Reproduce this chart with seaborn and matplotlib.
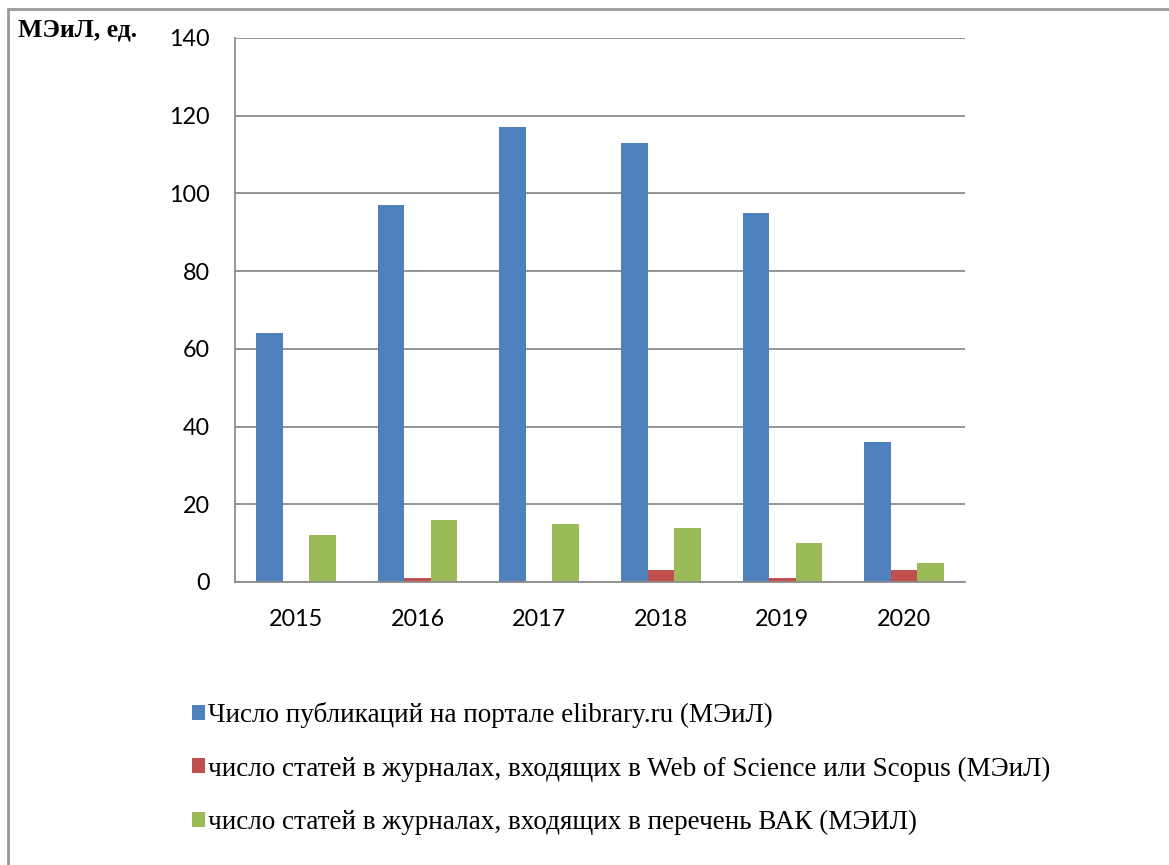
import matplotlib
matplotlib.use('Agg')
import matplotlib.pyplot as plt
import seaborn as sns
import pandas as pd
from matplotlib.patches import Patch
from matplotlib.lines import Line2D

# данные
years = ['2015', '2016', '2017', '2018', '2019', '2020']
series_names = [
    'Число публикаций на портале elibrary.ru (МЭиЛ)',
    'число статей в журналах, входящих в Web of Science или Scopus (МЭиЛ)',
    'число статей в журналах, входящих в перечень ВАК (МЭИЛ)',
]
elibrary = [64, 97, 117, 113, 95, 36]
wos_scopus = [0, 1, 0, 3, 1, 3]
vak = [12, 16, 15, 14, 10, 5]
colors = ['#4F81BD', '#C0504D', '#9BBB59']

rows = []
for name, vals in zip(series_names, [elibrary, wos_scopus, vak]):
    for y, v in zip(years, vals):
        rows.append({'year': y, 'value': v, 'series': name})
df = pd.DataFrame(rows)

sns.set_style('white')
plt.rcParams['font.family'] = ['Lato', 'DejaVu Sans']
plt.rcParams['text.color'] = 'black'
plt.rcParams['xtick.color'] = 'black'
plt.rcParams['ytick.color'] = 'black'

W, H = 1169, 865
fig = plt.figure(figsize=(W / 100, H / 100), dpi=100)
ax = fig.add_axes([235 / W, 1 - 582 / H, 730 / W, 544 / H])

sns.barplot(data=df, x='year', y='value', hue='series', palette=colors,
            width=0.655, saturation=1, legend=False, linewidth=0, edgecolor='none', ax=ax)

grid_c = '#8c8c8c'
ax.set_ylim(0, 140)
ax.set_xlim(-0.5, 5.5)
ax.set_yticks(range(0, 141, 20))
ax.yaxis.grid(True, color=grid_c, linewidth=1.3)
ax.set_axisbelow(True)
for s in ['top', 'right']:
    ax.spines[s].set_visible(False)
for s in ['left', 'bottom']:
    ax.spines[s].set_color(grid_c)
    ax.spines[s].set_linewidth(1.3)

ax.set_xlabel('')
ax.set_ylabel('')
ax.set_xticks(range(len(years)))
ax.set_xticklabels(years)
ax.set_xticks([i - 0.5 for i in range(len(years) + 1)], minor=True)
ax.tick_params(axis='x', which='major', length=0, pad=19.5, labelsize=16.8, labelcolor='black')
ax.tick_params(axis='x', which='minor', length=6, width=1.3, color=grid_c, direction='out')
ax.tick_params(axis='y', length=6, width=1.3, color=grid_c, direction='out', pad=12,
               labelsize=16.8, labelcolor='black')

fig.text(18 / W, 1 - 30 / H, 'МЭиЛ, ед.', family='Liberation Serif', fontweight='bold',
         fontsize=18.5, va='center', ha='left', color='black')

handles = [Patch(facecolor=c, edgecolor='none') for c in colors]
fig.legend(handles, series_names, loc='upper left', bbox_to_anchor=(192 / W, 1 - 702 / H),
           frameon=False, prop={'family': 'Liberation Serif', 'size': 19.5},
           handlelength=0.48, handleheight=0.48, handletextpad=0.12, labelspacing=1.05,
           borderaxespad=0, borderpad=0)

# рамка
fig.add_artist(Line2D([8 / W, 1], [1 - 9 / H, 1 - 9 / H], color='#999999', linewidth=2))
fig.add_artist(Line2D([8 / W, 8 / W], [0, 1 - 9 / H], color='#999999', linewidth=2))

fig.savefig('out.png', dpi=100, facecolor='white')
